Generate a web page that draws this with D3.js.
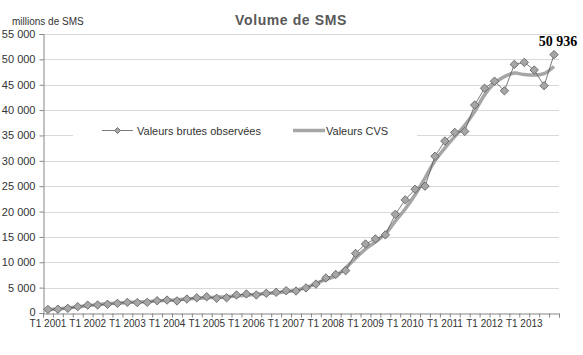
<!DOCTYPE html>
<html><head><meta charset="utf-8">
<script src="https://cdn.jsdelivr.net/npm/d3@7"></script>
<style>
body{margin:0;background:#fff;}
svg{display:block;font-family:"Liberation Sans",Arial,sans-serif;}
</style></head>
<body><svg id="c" width="583" height="355"></svg>
<script>
const yearLabels = ["T1 2001","T1 2002","T1 2003","T1 2004","T1 2005","T1 2006","T1 2007","T1 2008","T1 2009","T1 2010","T1 2011","T1 2012","T1 2013"];
const quarters = d3.range(52); // T1 2001 ... T4 2013
const rawValues = [700,750,920,1250, 1550,1580,1720,1900, 2100,2050,2100,2420, 2550,2380,2750,3000,
  3200,2900,3000,3550, 3750,3550,3880,4080, 4400,4330,4950,5700, 6900,7600,8350,11750,
  13600,14600,15400,19450, 22300,24400,25000,30900, 33900,35600,35800,41000,
  44300,45700,43800,49000, 49400,47900,44800,50936];
const cvsValues = [650,800,1000,1200, 1450,1650,1800,1950, 2050,2150,2250,2400, 2500,2600,2750,2900,
  3000,3100,3200,3350, 3500,3700,3850,4000, 4200,4500,5000,5800, 6600,7300,8900,10800,
  12600,14000,15600,18100, 20500,23300,26600,30000, 32500,34800,37000,39700,
  43000,45300,46600,47300, 47000,46900,47200,48600];
const yTicks = [0,5000,10000,15000,20000,25000,30000,35000,40000,45000,50000,55000];
const seriesNames = ["Valeurs brutes observées","Valeurs CVS"];
const title = "Volume de SMS";
const yUnit = "millions de SMS";

const svg = d3.select("#c");
const L=43, R=559, T=34, B=313;
const x = d3.scaleBand().domain(quarters).range([L,R]).padding(0);
const xl = d3.scaleLinear().domain([0,52]).range([L,R]);
const y = d3.scaleLinear().domain([0,55000]).range([B,T]);
const loc = d3.formatLocale({decimal:",",thousands:" ",grouping:[3],currency:["",""]});
const fmt = loc.format(",d");
const cx = i => x(i)+x.bandwidth()/2;

// gridlines
svg.append("g").selectAll("line").data(yTicks.filter(d=>d>0)).join("line")
  .attr("x1",L).attr("x2",R).attr("y1",d=>Math.round(y(d))+0.5).attr("y2",d=>Math.round(y(d))+0.5)
  .attr("stroke","#d9d9d9").attr("stroke-width",1);

// y axis
const ya = svg.append("g").attr("transform",`translate(${L+0.5},0)`)
  .call(d3.axisLeft(y).tickValues(yTicks).tickSize(4).tickPadding(4).tickFormat(fmt));
ya.select(".domain").attr("stroke","#868686");
ya.selectAll(".tick line").attr("stroke","#868686");
ya.selectAll("text").attr("font-size",11).attr("fill","#333").attr("font-family","Liberation Sans, Arial, sans-serif");
ya.selectAll("text").filter(d=>d===0).attr("dy","0.2em");

// x axis ticks (band boundaries)
const xa = svg.append("g").attr("transform",`translate(0,${B+0.5})`)
  .call(d3.axisBottom(xl).tickValues(d3.range(53)).tickSize(4).tickFormat(""));
xa.select(".domain").attr("stroke","#868686");
xa.selectAll(".tick line").attr("stroke","#868686");
// x labels
const xlab = svg.append("g").attr("transform",`translate(0,${B})`)
  .call(d3.axisBottom(x).tickValues(quarters.filter(i=>i%4===0)).tickSize(0).tickPadding(7)
     .tickFormat(i=>yearLabels[i/4]));
xlab.select(".domain").remove();
xlab.selectAll("text").attr("font-size",10).attr("fill","#333").attr("font-family","Liberation Sans, Arial, sans-serif");

// CVS line
svg.append("path").datum(cvsValues)
  .attr("d", d3.line().x((d,i)=>cx(i)).y(d=>y(d)).curve(d3.curveCatmullRom.alpha(0.5)))
  .attr("fill","none").attr("stroke","#a6a6a6").attr("stroke-width",3.5).attr("stroke-linejoin","round");

// raw line + diamonds
svg.append("path").datum(rawValues)
  .attr("d", d3.line().x((d,i)=>cx(i)).y(d=>y(d)))
  .attr("fill","none").attr("stroke","#595959").attr("stroke-width",0.8);
const dm = (s)=>`M0,${-s}L${s},0L0,${s}L${-s},0Z`;
svg.append("g").selectAll("path").data(rawValues).join("path")
  .attr("transform",(d,i)=>`translate(${cx(i)},${y(d)})`)
  .attr("d",dm(4.2)).attr("fill","#a6a6a6").attr("stroke","#595959").attr("stroke-width",0.8);

// last value label
const last = rawValues.length-1;
svg.append("text").attr("x",cx(last)+4).attr("y",y(rawValues[last])-9)
  .attr("text-anchor","middle").attr("font-family","Liberation Serif, Times New Roman, serif")
  .attr("font-weight","bold").attr("font-size",14).attr("fill","#000").text(fmt(rawValues[last]));

// legend
const lg = svg.append("g");
lg.append("rect").attr("x",73).attr("y",121).attr("width",344).attr("height",20).attr("fill","#fff");
const ly = 130.5;
lg.append("line").attr("x1",102).attr("x2",133).attr("y1",ly).attr("y2",ly).attr("stroke","#595959").attr("stroke-width",0.8);
lg.append("path").attr("transform",`translate(117.5,${ly})`).attr("d",dm(3)).attr("fill","#a6a6a6").attr("stroke","#595959").attr("stroke-width",0.8);
lg.append("text").attr("x",137).attr("y",ly+4).attr("font-size",11).attr("fill","#333").text(seriesNames[0]);
lg.append("line").attr("x1",293).attr("x2",325).attr("y1",ly).attr("y2",ly).attr("stroke","#a6a6a6").attr("stroke-width",3.5);
lg.append("text").attr("x",326).attr("y",ly+4).attr("font-size",11).attr("fill","#333").text(seriesNames[1]);

// title and unit
svg.append("text").attr("x",291).attr("y",25).attr("text-anchor","middle").attr("font-weight","bold")
  .attr("font-size",14).attr("letter-spacing",0.6).attr("fill","#595959").text(title);
svg.append("text").attr("x",12).attr("y",25).attr("font-size",10).attr("fill","#333").text(yUnit);
</script></body></html>
